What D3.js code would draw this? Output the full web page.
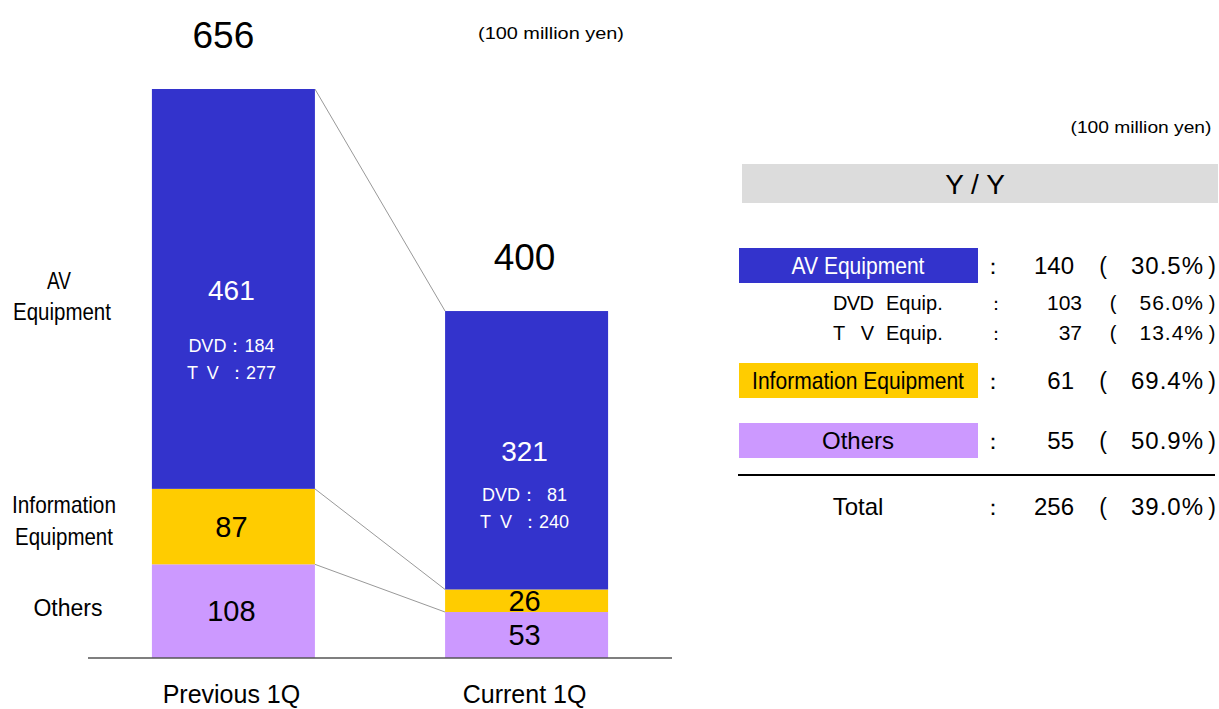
<!DOCTYPE html>
<html>
<head>
<meta charset="utf-8">
<script src="https://cdn.jsdelivr.net/npm/d3@7"></script>
<style>
  body { margin: 0; background: #fff; }
  text { font-family: "Liberation Sans", Arial, sans-serif; }
</style>
</head>
<body>
<script>
// data
const periods = ["Previous 1Q", "Current 1Q"];
const segments = ["others", "info", "av"];
const others = [108, 53];
const info = [87, 26];
const av = [461, 321];
const totals = [656, 400];
const dvd = [184, 81];
const tv = [277, 240];

const yoyLabels = ["AV Equipment", "DVD Equip.", "T V Equip.", "Information Equipment", "Others", "Total"];
const yoyDiff = [140, 103, 37, 61, 55, 256];
const yoyPct = ["30.5", "56.0", "13.4", "69.4", "50.9", "39.0"];

const colors = { av: "#3333cc", info: "#ffcc00", others: "#cc99ff" };

const width = 1219, height = 709;
const svg = d3.select("body").append("svg")
    .attr("width", width)
    .attr("height", height);

// condensed text: draw centred at (cx, y) and squeeze horizontally to width w
function narrowText(txt, cx, y, w, size, fill) {
  let g = svg.append("g").attr("transform", `translate(${cx},${y})`);
  let t = g.append("text")
      .attr("text-anchor", "middle")
      .attr("font-size", size)
      .attr("fill", fill || "#000")
      .text(txt);
  let natural = t.node().getComputedTextLength();
  t.attr("transform", `scale(${w / natural},1)`);
  return t;
}

// scales
const x = d3.scaleBand()
    .domain(periods)
    .range([88, 672])
    .paddingInner(0.444)
    .paddingOuter(0.218);

const y = d3.scaleLinear()
    .domain([0, 656])
    .range([658, 89]);

const table = periods.map((p, i) => ({ period: p, others: others[i], info: info[i], av: av[i] }));
const series = d3.stack().keys(segments)(table);

// connector lines between bars
const p0 = periods[0], p1 = periods[1];
segments.forEach(key => {
  let s = series.find(d => d.key === key);
  svg.append("line")
      .attr("x1", x(p0) + x.bandwidth())
      .attr("y1", y(s[0][1]))
      .attr("x2", x(p1))
      .attr("y2", y(s[1][1]))
      .attr("stroke", "#999")
      .attr("stroke-width", 1);
});

// bars
svg.selectAll("g.seg")
    .data(series)
    .enter()
    .append("g")
    .attr("class", "seg")
    .attr("fill", d => colors[d.key])
    .selectAll("rect")
    .data(d => d)
    .enter()
    .append("rect")
    .attr("x", d => x(d.data.period))
    .attr("y", d => y(d[1]))
    .attr("width", x.bandwidth())
    .attr("height", d => y(d[0]) - y(d[1]));

// baseline
svg.append("line")
    .attr("x1", 88).attr("x2", 672)
    .attr("y1", y(0)).attr("y2", y(0))
    .attr("stroke", "#555")
    .attr("stroke-width", 1.5);

// totals on top
const totalDx = [-10, -2];
svg.selectAll("text.total")
    .data(periods)
    .enter()
    .append("text")
    .attr("class", "total")
    .attr("x", (d, i) => x(d) + x.bandwidth() / 2 + totalDx[i])
    .attr("y", (d, i) => y(totals[i]) - 41)
    .attr("text-anchor", "middle")
    .attr("font-size", 37)
    .text((d, i) => totals[i]);

// segment values
const avSeries = series.find(d => d.key === "av");
const infoSeries = series.find(d => d.key === "info");
const othSeries = series.find(d => d.key === "others");

periods.forEach((p, i) => {
  let cx = x(p) + x.bandwidth() / 2;
  let top = y(avSeries[i][1]);
  svg.append("text")
      .attr("x", cx - 2).attr("y", top + (i === 0 ? 211 : 150))
      .attr("text-anchor", "middle").attr("font-size", 28).attr("fill", "#fff")
      .text(av[i]);
  svg.append("text")
      .attr("x", cx - 2).attr("y", top + (i === 0 ? 263 : 190))
      .attr("text-anchor", "middle").attr("font-size", 18).attr("fill", "#fff")
      .text("DVD\uFF1A" + (dvd[i] < 100 ? "\u2002" + dvd[i] : dvd[i]));
  svg.append("text")
      .attr("x", cx - 2).attr("y", top + (i === 0 ? 290 : 217))
      .attr("text-anchor", "middle").attr("font-size", 18).attr("fill", "#fff")
      .text("T\u2002V\u2002\uFF1A" + tv[i]);

  let im = (y(infoSeries[i][0]) + y(infoSeries[i][1])) / 2;
  svg.append("text")
      .attr("x", cx - 2).attr("y", im + 10)
      .attr("text-anchor", "middle").attr("font-size", 29)
      .text(info[i]);
  let om = (y(othSeries[i][0]) + y(othSeries[i][1])) / 2;
  svg.append("text")
      .attr("x", cx - 2).attr("y", om + 10)
      .attr("text-anchor", "middle").attr("font-size", 29)
      .text(others[i]);
});

// category labels on the left
narrowText("AV", 59, 289, 24, 24);
narrowText("Equipment", 62, 320, 98, 24);
narrowText("Information", 64, 513, 104, 24);
narrowText("Equipment", 64, 545, 98, 24);
svg.append("text")
    .attr("x", 68).attr("y", 616)
    .attr("text-anchor", "middle").attr("font-size", 23)
    .text("Others");

// x axis labels
svg.selectAll("text.xlab")
    .data(periods)
    .enter()
    .append("text")
    .attr("class", "xlab")
    .attr("x", d => x(d) + x.bandwidth() / 2 - 2)
    .attr("y", 703)
    .attr("text-anchor", "middle")
    .attr("font-size", 25)
    .text(d => d);

// unit
narrowText("(100 million yen)", 551, 39, 146, 16);

// ---- right hand table ----
narrowText("(100 million yen)", 1141, 133, 141, 16);

svg.append("rect")
    .attr("x", 742).attr("y", 164).attr("width", 476).attr("height", 39)
    .attr("fill", "#dcdcdc");
svg.append("text")
    .attr("x", 975).attr("y", 194)
    .attr("text-anchor", "middle").attr("font-size", 28)
    .text("Y / Y");

// row layout
const rowY = [266, 302, 332, 381, 441, 507];
const rowFill = [colors.av, null, null, colors.info, colors.others, null];
const rowMain = [true, false, false, true, true, true];
const boxTextW = [133, 0, 0, 212, 0, 0];

yoyLabels.forEach((lab, i) => {
  let ry = rowY[i];
  let big = rowMain[i];
  let fs = big ? 23 : 20;
  if (rowFill[i]) {
    svg.append("rect")
        .attr("x", 739).attr("y", ry - 18).attr("width", 239).attr("height", 35)
        .attr("fill", rowFill[i]);
  }
  if (boxTextW[i]) {
    narrowText(lab, 858, ry + 8, boxTextW[i], 24, i === 0 ? "#fff" : "#000");
  } else if (big) {
    svg.append("text")
        .attr("x", 858).attr("y", ry + 8)
        .attr("text-anchor", "middle").attr("font-size", 24)
        .text(lab);
  } else {
    // sub rows: prefix then "Equip." aligned
    let parts = lab.split(" Equip.");
    svg.append("text")
        .attr("x", 833).attr("y", ry + 8)
        .attr("font-size", fs)
        .attr("textLength", 41).attr("lengthAdjust", "spacing")
        .text(parts[0]);
    svg.append("text")
        .attr("x", 886).attr("y", ry + 8)
        .attr("font-size", fs)
        .text("Equip.");
  }

  svg.append("text")
      .attr("x", big ? 993 : 996).attr("y", ry + 8)
      .attr("text-anchor", "middle").attr("font-size", big ? 22 : 18)
      .text("\uFF1A");
  svg.append("text")
      .attr("x", big ? 1074 : 1082).attr("y", ry + 8)
      .attr("text-anchor", "end").attr("font-size", fs + 1)
      .text(yoyDiff[i]);
  svg.append("text")
      .attr("x", big ? 1103 : 1113).attr("y", ry + 8)
      .attr("text-anchor", "middle").attr("font-size", fs)
      .text("(");
  svg.append("text")
      .attr("x", 1204).attr("y", ry + 8)
      .attr("text-anchor", "end").attr("font-size", fs + 1)
      .attr("letter-spacing", 1)
      .text(yoyPct[i] + "%");
  svg.append("text")
      .attr("x", 1212).attr("y", ry + 8)
      .attr("text-anchor", "middle").attr("font-size", fs)
      .text(")");
});

svg.append("line")
    .attr("x1", 738).attr("x2", 1215)
    .attr("y1", 475).attr("y2", 475)
    .attr("stroke", "#000").attr("stroke-width", 2);
</script>
</body>
</html>
